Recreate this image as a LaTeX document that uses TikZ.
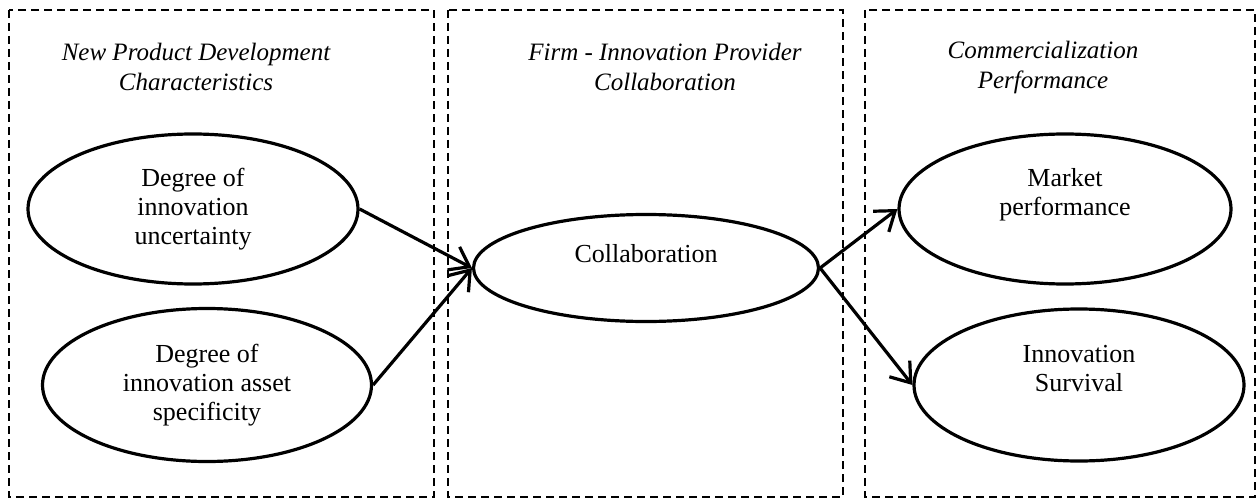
\documentclass[tikz,border=0pt]{standalone}
\usepackage{fontspec}
\setmainfont{Liberation Serif}
\usetikzlibrary{arrows.meta,shapes.geometric}

\begin{document}
\begin{tikzpicture}[
	x=1pt, y=-1pt,
	group/.style={
		draw,
		dash pattern=on 8pt off 5pt,
		line width=1.8pt,
	},
	heading/.style={
		align=center,
		font=\fontsize{25}{30}\selectfont\itshape,
	},
	factor/.style={
		draw,
		ellipse,
		line width=3.2pt,
		inner sep=0pt,
		align=center,
		font=\fontsize{26}{29}\selectfont,
	},
	caption/.style={
		align=center,
		font=\fontsize{26}{29}\selectfont,
	},
	link/.style={
		->,
		line width=3.2pt,
	},
	>={Straight Barb[length=18pt,width=26pt]}
	]
	\useasboundingbox (0,0) rectangle (1258,500);
	% the three dashed groups
	\draw[group] (9,10) rectangle (434,497);
	\draw[group] (448,10) rectangle (843,497);
	\draw[group] (865,10) rectangle (1255,497);
	\node[heading] (npd) at (196,67) {New Product Development\\Characteristics};
	\node[heading] (firm) at (665,67) {Firm - Innovation Provider\\Collaboration};
	\node[heading] (comm) at (1043,67) {Commercialization\\Performance};
	% left column
	\node[factor, minimum width=330pt, minimum height=150pt] (uncert) at (193,209) {Degree of\\innovation\\uncertainty};
	\node[factor, minimum width=329pt, minimum height=153pt] (asset) at (207,385) {Degree of\\innovation asset\\specificity};
	% middle
	\node[factor, minimum width=345pt, minimum height=107pt] (collab) at (646,268) {};
	\node[caption] (collabtxt) at (646,254) {Collaboration};
	% right column
	\node[factor, minimum width=332pt, minimum height=150pt] (market) at (1065,209) {};
	\node[caption] (markettxt) at (1065,195) {Market\\performance};
	\node[factor, minimum width=330pt, minimum height=152pt] (surv) at (1079,385) {};
	\node[caption] (survtxt) at (1079,369) {Innovation\\Survival};
	% links
	\foreach \src in {uncert,asset}
		\draw[link] (\src.east) -- (collab.west);
	\foreach \dst in {market,surv}
		\draw[link] (collab.east) -- (\dst.west);
\end{tikzpicture}
\end{document}
